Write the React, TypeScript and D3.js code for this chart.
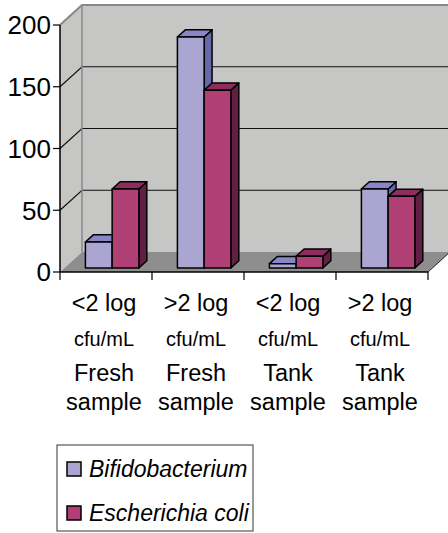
import React, { useRef, useEffect } from 'react';
import * as d3 from 'd3';

const categories = ['c1', 'c2', 'c3', 'c4'];
const labelRow1 = ['<2 log', '>2 log', '<2 log', '>2 log'];
const labelRow2 = ['cfu/mL', 'cfu/mL', 'cfu/mL', 'cfu/mL'];
const labelRow3 = ['Fresh', 'Fresh', 'Tank', 'Tank'];
const labelRow4 = ['sample', 'sample', 'sample', 'sample'];
const seriesNames = ['Bifidobacterium', 'Escherichia coli'];
const bifidobacterium = [21, 187, 3.5, 64];
const escherichiaColi = [64, 144, 9.5, 58];
const yTicks = [0, 50, 100, 150, 200];

const App = () => {
    const ref = useRef<SVGSVGElement>(null);

    useEffect(() => {
        const width = 448;
        const height = 533;
        const DX = 22, DY = 20; // depth offset of the back wall
        const z0 = 0.2, z1 = 0.56; // bar depth range
        const font = "'Liberation Sans', Arial, sans-serif";

        const colors = [
            { front: '#aaa5d1', top: '#8886c6', side: '#6569a9' },
            { front: '#b03f76', top: '#8c2d5d', side: '#621f45' },
        ];
        const values = [bifidobacterium, escherichiaColi];

        const x = d3.scaleBand<string>().domain(categories).range([60, 428]);
        const xs = d3.scaleBand<string>().domain(seriesNames).range([21, 74.5]);
        const y = d3.scaleLinear().domain([0, 200]).range([272, 25]);

        const proj = (px: number, v: number, z: number): [number, number] => [px + z * DX, y(v) - z * DY];
        const poly = (pts: [number, number][]) => pts.map(p => p.join(',')).join(' ');

        const svg = d3.select(ref.current)
            .attr('width', width)
            .attr('height', height);
        svg.selectAll('*').remove();

        const x0 = 60, x1 = 428;

        // back wall
        svg.append('polygon')
            .attr('points', poly([proj(x0, 0, 1), proj(x1 + 30, 0, 1), proj(x1 + 30, 200, 1), proj(x0, 200, 1)]))
            .attr('fill', '#c6c7c5');
        // left wall
        svg.append('polygon')
            .attr('points', poly([proj(x0, 0, 0), proj(x0, 0, 1), proj(x0, 200, 1), proj(x0, 200, 0)]))
            .attr('fill', '#c6c7c5');
        // floor
        svg.append('polygon')
            .attr('points', poly([proj(x0, 0, 0), proj(x1, 0, 0), proj(x1, 0, 1), proj(x0, 0, 1)]))
            .attr('fill', '#8e8e8e');

        // gridlines
        yTicks.filter(t => t > 0 && t < 200).forEach(t => {
            const a = proj(x0, t, 0), b = proj(x0, t, 1), c = proj(x1 + 30, t, 1);
            svg.append('polyline')
                .attr('points', poly([a, b, c]))
                .attr('fill', 'none')
                .attr('stroke', '#111')
                .attr('stroke-width', 1.2);
        });
        // top edge + back corner
        svg.append('polyline')
            .attr('points', poly([proj(x0, 200, 0), proj(x0, 200, 1), proj(x1 + 30, 200, 1)]))
            .attr('fill', 'none')
            .attr('stroke', '#888')
            .attr('stroke-width', 2);
        svg.append('line')
            .attr('x1', proj(x0, 0, 1)[0]).attr('y1', proj(x0, 0, 1)[1])
            .attr('x2', proj(x0, 200, 1)[0]).attr('y2', proj(x0, 200, 1)[1])
            .attr('stroke', '#888')
            .attr('stroke-width', 1.5);
        // floor right edge
        svg.append('line')
            .attr('x1', proj(x1, 0, 0)[0]).attr('y1', proj(x1, 0, 0)[1])
            .attr('x2', proj(x1, 0, 1)[0]).attr('y2', proj(x1, 0, 1)[1])
            .attr('stroke', '#222')
            .attr('stroke-width', 1);

        // bars
        categories.forEach((cat, i) => {
            seriesNames.forEach((s, j) => {
                const v = values[j][i];
                const bx0 = (x(cat) as number) + (xs(s) as number);
                const bx1 = bx0 + xs.bandwidth();
                const col = colors[j];
                const g = svg.append('g')
                    .attr('stroke', '#000')
                    .attr('stroke-width', 1.5)
                    .attr('stroke-linejoin', 'round');
                g.append('polygon')
                    .attr('points', poly([proj(bx1, 0, z0), proj(bx1, 0, z1), proj(bx1, v, z1), proj(bx1, v, z0)]))
                    .attr('fill', col.side);
                g.append('polygon')
                    .attr('points', poly([proj(bx0, v, z0), proj(bx1, v, z0), proj(bx1, v, z1), proj(bx0, v, z1)]))
                    .attr('fill', col.top);
                g.append('polygon')
                    .attr('points', poly([proj(bx0, 0, z0), proj(bx1, 0, z0), proj(bx1, v, z0), proj(bx0, v, z0)]))
                    .attr('fill', col.front);
            });
        });

        // y axis
        svg.append('line')
            .attr('x1', x0).attr('y1', y(0)).attr('x2', x0).attr('y2', y(200))
            .attr('stroke', '#000').attr('stroke-width', 1.5);
        yTicks.forEach(t => {
            svg.append('line')
                .attr('x1', 53).attr('x2', x0)
                .attr('y1', y(t)).attr('y2', y(t))
                .attr('stroke', '#000').attr('stroke-width', 1.2);
            svg.append('text')
                .attr('x', 51).attr('y', y(t))
                .attr('dy', '0.36em')
                .attr('text-anchor', 'end')
                .attr('font-family', font)
                .attr('font-size', 26)
                .attr('fill', '#000')
                .text(t);
        });

        // x axis
        svg.append('line')
            .attr('x1', x0).attr('x2', x1).attr('y1', y(0)).attr('y2', y(0))
            .attr('stroke', '#000').attr('stroke-width', 1.5);
        [...categories.map(c => x(c) as number), x1].forEach(px => {
            svg.append('line')
                .attr('x1', px).attr('x2', px)
                .attr('y1', y(0)).attr('y2', y(0) + 8)
                .attr('stroke', '#000').attr('stroke-width', 1.2);
        });

        const rows = [
            { labels: labelRow1, y: 311, size: 23.5 },
            { labels: labelRow2, y: 346, size: 20 },
            { labels: labelRow3, y: 381, size: 23.5 },
            { labels: labelRow4, y: 410, size: 23.5 },
        ];
        rows.forEach(r => {
            categories.forEach((cat, i) => {
                svg.append('text')
                    .attr('x', (x(cat) as number) + x.bandwidth() / 2 - 2)
                    .attr('y', r.y)
                    .attr('text-anchor', 'middle')
                    .attr('font-family', font)
                    .attr('font-size', r.size)
                    .attr('fill', '#000')
                    .text(r.labels[i]);
            });
        });

        // legend
        const legend = svg.append('g');
        legend.append('rect')
            .attr('x', 57).attr('y', 445)
            .attr('width', 196).attr('height', 86)
            .attr('fill', '#fff')
            .attr('stroke', '#555')
            .attr('stroke-width', 1.2);
        seriesNames.forEach((s, j) => {
            const ly = 462 + j * 44;
            legend.append('rect')
                .attr('x', 67).attr('y', ly)
                .attr('width', 14).attr('height', 14)
                .attr('fill', colors[j].front)
                .attr('stroke', '#000')
                .attr('stroke-width', 1.5);
            legend.append('text')
                .attr('x', 89).attr('y', ly + 15)
                .attr('font-family', font)
                .attr('font-size', 23)
                .attr('font-style', 'italic')
                .attr('fill', '#000')
                .text(s);
        });
    }, []);

    return (
        <svg ref={ref} style={{ position: 'absolute', left: 0, top: 0, background: '#fff' }}></svg>
    );
};

export default App;
